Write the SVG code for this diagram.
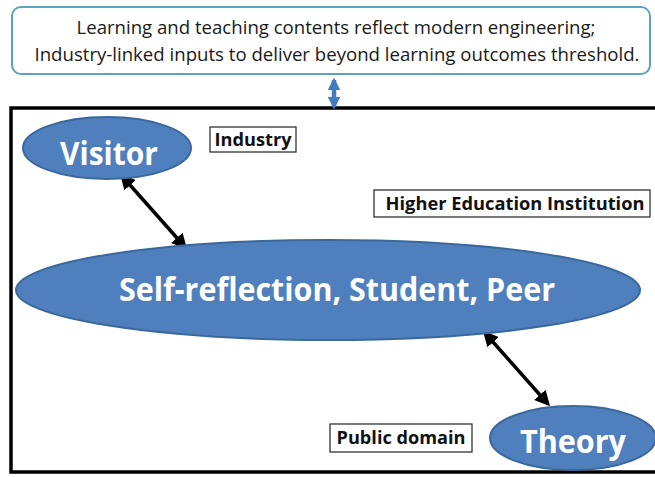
<svg xmlns="http://www.w3.org/2000/svg" width="655" height="477" viewBox="0 0 655 477">
<defs>
<style>
.top{font-family:"Open Sans","Noto Sans","Liberation Sans",sans-serif;font-size:18px;fill:#1a1a1a;text-anchor:middle}
.lbl{font-family:"Open Sans","Noto Sans","Liberation Sans",sans-serif;font-size:17px;font-weight:bold;fill:#111;text-anchor:middle}
.big{font-family:"Open Sans","Noto Sans","Liberation Sans",sans-serif;font-size:33px;font-weight:bold;fill:#fff;text-anchor:middle}
.ell{fill:#4f80bd;stroke:#3a689c;stroke-width:2}
.box{fill:#fff;stroke:#333;stroke-width:1.3}
.conn{stroke:#000;stroke-width:3.5;fill:none}
</style>
<marker id="ah" viewBox="0 0 10 10" refX="8" refY="5" markerWidth="4.4" markerHeight="4.4" orient="auto-start-reverse" markerUnits="strokeWidth">
<path d="M0,0 L10,5 L0,10 z" fill="#000"/>
</marker>
<marker id="bh" viewBox="0 0 10 10" refX="8" refY="5" markerWidth="2.8" markerHeight="2.8" orient="auto-start-reverse" markerUnits="strokeWidth">
<path d="M0,0 L10,5 L0,10 z" fill="#3f7dc0"/>
</marker>
</defs>
<rect width="655" height="477" fill="#fff"/>
<g id="top-note">
<rect x="12" y="7" width="638" height="67" rx="9" fill="#fff" stroke="#5aa5b8" stroke-width="2"/>
<text class="top" x="336" y="34" textLength="519" lengthAdjust="spacingAndGlyphs">Learning and teaching contents reflect modern engineering;</text>
<text class="top" x="337" y="61" textLength="605" lengthAdjust="spacingAndGlyphs">Industry-linked inputs to deliver beyond learning outcomes threshold.</text>
</g>
<g id="frame">
<rect x="11" y="108" width="652" height="364" fill="none" stroke="#000" stroke-width="3.5"/>
</g>
<g id="connectors">
<line x1="334" y1="80" x2="334" y2="107" stroke="#3f7dc0" stroke-width="4.5" marker-start="url(#bh)" marker-end="url(#bh)"/>
<line class="conn" x1="122" y1="176" x2="185" y2="247" marker-start="url(#ah)" marker-end="url(#ah)"/>
<line class="conn" x1="485" y1="333" x2="548" y2="404" marker-start="url(#ah)" marker-end="url(#ah)"/>
</g>
<g id="industry">
<rect class="box" x="210" y="127" width="86" height="25"/>
<text class="lbl" x="253" y="146" textLength="77" lengthAdjust="spacingAndGlyphs">Industry</text>
</g>
<g id="hei">
<rect class="box" x="374" y="190" width="276" height="27"/>
<text class="lbl" x="515" y="210" textLength="259" lengthAdjust="spacingAndGlyphs">Higher Education Institution</text>
</g>
<g id="public">
<rect class="box" x="330" y="424" width="142" height="28"/>
<text class="lbl" x="401" y="444" textLength="129" lengthAdjust="spacingAndGlyphs">Public domain</text>
</g>
<g id="visitor">
<ellipse class="ell" cx="107" cy="148" rx="84" ry="31"/>
<text class="big" x="109" y="165" textLength="98" lengthAdjust="spacingAndGlyphs">Visitor</text>
</g>
<g id="center">
<ellipse class="ell" cx="328" cy="290" rx="312" ry="50"/>
<text class="big" x="337" y="301" textLength="436" lengthAdjust="spacingAndGlyphs">Self-reflection, Student, Peer</text>
</g>
<g id="theory">
<ellipse class="ell" cx="573" cy="438" rx="83" ry="32"/>
<text class="big" x="573" y="453" textLength="106" lengthAdjust="spacingAndGlyphs">Theory</text>
</g>
</svg>
